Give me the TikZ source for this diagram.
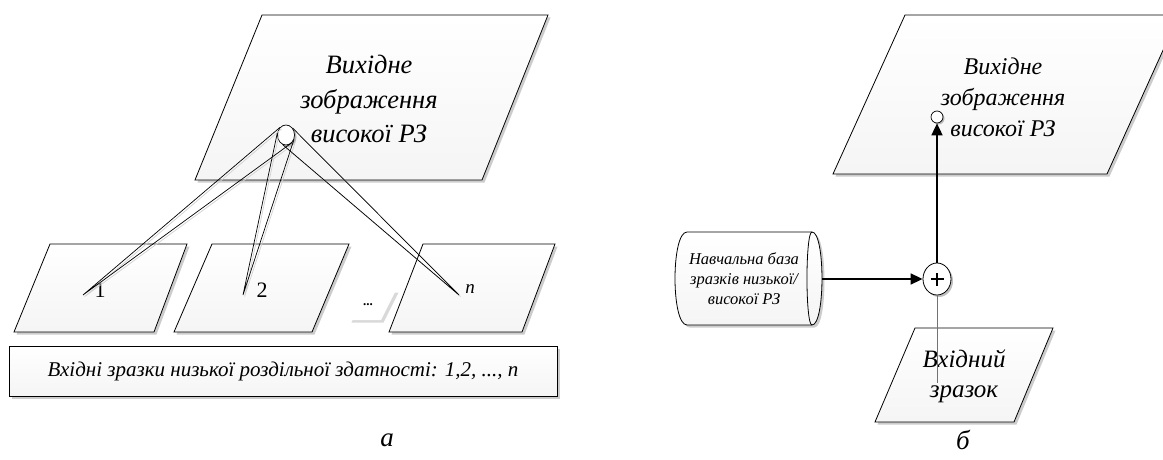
\documentclass[tikz,border=0pt]{standalone}
\usepackage{fontspec}
\setmainfont{Liberation Serif}[ItalicFont={Liberation Serif Italic}]
\usetikzlibrary{arrows.meta,shadows,shapes.geometric}

\tikzset{
  x=1pt,y=-1pt,
  shp/.style={draw=black, line width=0.8pt, top color=white, bottom color=black!4,
    drop shadow={shadow xshift=2.5pt, shadow yshift=-2.5pt, fill=black, opacity=0.2}},
  txt/.style={inner sep=0pt, align=center, font=\itshape},
  cone/.style={draw=black, line width=0.7pt},
  conesh/.style={draw=black!18, line width=0.7pt, transform canvas={shift={(1.6pt,-1.6pt)}}},
  thick arrow/.style={draw=black, line width=1.6pt, -{Triangle[length=12pt,width=11pt]}},
  thinline/.style={draw=black!55, line width=0.7pt},
}

\begin{document}
\begin{tikzpicture}
\useasboundingbox (0,0) rectangle (1163,460);
\clip (0,0) rectangle (1163,460);
\fill[white] (0,0) rectangle (1163,460);

% ---------------- panel a ----------------
\path[shp] (262,15) -- (548,15) -- (482,180) -- (195,180) -- cycle;
\node[txt, font=\itshape\fontsize{26.5}{34.5}\selectfont] (outA) at (369,99)
  {Вихідне\\зображення\\високої РЗ};

\path[shp] (50,244) -- (187,244) -- (154,332) -- (14,332) -- cycle;
\path[shp] (212,244) -- (349,244) -- (312,332) -- (174,332) -- cycle;
\path[shp] (423,244) -- (555,244) -- (522,332) -- (389,332) -- cycle;

% dots shape (borderless)
\path[fill=white, drop shadow={shadow xshift=2.5pt, shadow yshift=-2.5pt, fill=black, opacity=0.15}]
  (363,290) -- (396,290) -- (381,320) -- (349,320) -- cycle;
\node[inner sep=0pt, font=\fontsize{13}{13}\selectfont\bfseries] (dots) at (368,305) {...};

\path[shp] (9,346) rectangle (557,396);
\node[txt, font=\itshape\fontsize{21}{24}\selectfont] (inA) at (283,371)
  {Вхідні зразки низької роздільної здатності: 1,2, ..., n};

\node[inner sep=0pt, font=\fontsize{22}{22}\selectfont] (l1) at (100,290) {1};
\node[inner sep=0pt, font=\fontsize{22}{22}\selectfont] (l2) at (262,290) {2};
\node[inner sep=0pt, font=\itshape\fontsize{19}{19}\selectfont] (ln) at (470,289) {n};

\coordinate (e1) at (83,295);
\coordinate (e2) at (243,295);
\coordinate (en) at (459,295);

\node[ellipse, draw=black, line width=0.7pt, fill=white, minimum width=17pt, minimum height=20pt,
  inner sep=0pt, drop shadow={shadow xshift=2pt, shadow yshift=-2pt, fill=black, opacity=0.25}] (c1) at (286,135) {};

\path[conesh] (c1.128) -- (e1) -- (c1.308);
\path[conesh] (c1.165) -- (e2) -- (c1.330);
\path[conesh] (c1.47) -- (en) -- (c1.250);
\path[cone] (c1.128) -- (e1) -- (c1.308);
\path[cone] (c1.165) -- (e2) -- (c1.330);
\path[cone] (c1.47) -- (en) -- (c1.250);

\node[txt, font=\itshape\fontsize{27}{27}\selectfont] (capA) at (387,440) {а};

% ---------------- panel b ----------------
\path[shp] (905,15) -- (1179,15) -- (1107,174) -- (833,174) -- cycle;
\node[txt, font=\itshape\fontsize{24}{31}\selectfont] (outB) at (1003,97)
  {Вихідне\\зображення\\високої РЗ};

\path[shp] (915,328) -- (1053,328) -- (1014,422) -- (875,422) -- cycle;
\node[txt, font=\itshape\fontsize{25}{30}\selectfont] (inB) at (964,376)
  {Вхідний\\зразок};

% data store (horizontal cylinder)
\path[shp] (812,232) -- (687,232) .. controls (671,232) and (671,325) .. (687,325)
  -- (812,325) .. controls (825.3,325) and (825.3,232) .. (812,232) -- cycle;
\draw[line width=0.8pt] (812,232) .. controls (805.3,232) and (805.3,325) .. (812,325);
\node[txt, font=\itshape\fontsize{16.5}{20}\selectfont] (db) at (744,279)
  {Навчальна база\\зразків низької/\\високої РЗ};
\coordinate (dbE) at (822,279);

\node[ellipse, draw=black, line width=0.8pt, fill=white, minimum width=28pt, minimum height=32pt,
  inner sep=0pt, drop shadow={shadow xshift=2pt, shadow yshift=-2pt, fill=black, opacity=0.25}] (plus) at (937,279) {};
\draw[line width=1.3pt] ([xshift=-6.5pt]plus.center) -- ([xshift=6.5pt]plus.center);
\draw[line width=1.3pt] ([yshift=-6.5pt]plus.center) -- ([yshift=6.5pt]plus.center);

\node[circle, draw=black, line width=0.7pt, fill=white, minimum size=12pt, inner sep=0pt,
  drop shadow={shadow xshift=1.5pt, shadow yshift=-1.5pt, fill=black, opacity=0.25}] (o2) at (937,117) {};

\coordinate (inEnd) at (937,383);
\path[thinline] (plus.south) -- (inEnd);
\path[thick arrow] (dbE) -- (plus.west);
\path[thick arrow] (plus.north) -- (o2.south);

\node[txt, font=\itshape\fontsize{27}{27}\selectfont] (capB) at (963,440) {б};
\end{tikzpicture}
\end{document}
